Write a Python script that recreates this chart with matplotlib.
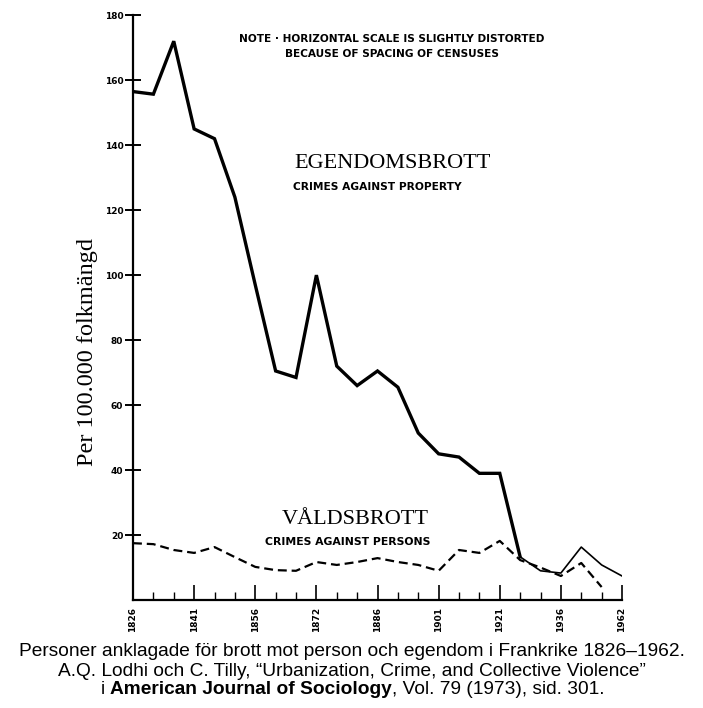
import matplotlib.pyplot as plt

# census years (horizontal scale follows census spacing, not time)
years = [1826, 1831, 1836, 1841, 1846, 1851, 1856, 1861, 1866, 1872, 1876, 1881,
         1886, 1891, 1896, 1901, 1906, 1911, 1921, 1926, 1931, 1936, 1946, 1954, 1962]
property_crimes = [156.5, 155.7, 172, 145, 142, 124, 97, 70.5, 68.5, 100, 72, 66,
                   70.5, 65.5, 51.4, 45, 44, 39, 39, 13.3, 9, 8.3, 16.3, 10.8, 7.4]
person_crimes = [17.5, 17.2, 15.4, 14.5, 16.3, 13.2, 10.2, 9.2, 9, 11.7, 10.8, 11.7,
                 12.9, 11.7, 10.8, 9, 15.4, 14.5, 18.2, 12.3, 10, 7.4, 11.4, 4]
label_years = [1826, 1841, 1856, 1872, 1886, 1901, 1921, 1936, 1962]
y_ticks = [20, 40, 60, 80, 100, 120, 140, 160, 180]

x = list(range(len(years)))

fig = plt.figure(figsize=(7.03, 7.08), dpi=100)
ax = fig.add_axes([0.1892, 0.1525, 0.6956, 0.826])

# solid line is heavy up to 1926, thinner afterwards
cut = years.index(1926)
ax.plot(x[:cut + 1], property_crimes[:cut + 1], color='black', lw=2.4,
        solid_joinstyle='miter')
ax.plot(x[cut:], property_crimes[cut:], color='black', lw=1.2)
ax.plot(x[:len(person_crimes)], person_crimes, color='black', lw=1.6,
        dashes=(4, 2.2))

ax.set_xlim(0, len(years) - 1)
ax.set_ylim(0, 180)
for s in ['top', 'right']:
    ax.spines[s].set_visible(False)
for s in ['left', 'bottom']:
    ax.spines[s].set_linewidth(1.6)

ax.set_yticks(y_ticks)
ax.set_yticklabels([str(v) for v in y_ticks], fontsize=6.5, fontweight='bold')
ax.tick_params(axis='y', direction='inout', length=12, width=1.4, pad=1)

major = [years.index(y) for y in label_years]
minor = [i for i in x if i not in major]
ax.set_xticks(major)
ax.set_xticklabels([str(y) for y in label_years], rotation=90, fontsize=6.5,
                   fontweight='bold')
ax.set_xticks(minor, minor=True)
ax.tick_params(axis='x', which='major', direction='in', length=11, width=1.2, pad=5)
ax.tick_params(axis='x', which='minor', direction='in', length=6, width=1.0)

ax.set_ylabel('Per 100.000 folkmängd', family='Liberation Serif', fontsize=17.5)
ax.yaxis.set_label_coords(-0.072, 0.424)

ax.text(0.53, 0.946, 'NOTE · HORIZONTAL SCALE IS SLIGHTLY DISTORTED\n'
        'BECAUSE OF SPACING OF CENSUSES', transform=ax.transAxes, ha='center',
        va='center', fontsize=7.6, fontweight='bold', linespacing=1.6)
ax.text(0.53, 0.747, 'EGENDOMSBROTT', transform=ax.transAxes, ha='center',
        va='center', family='Liberation Serif', fontsize=16)
ax.text(0.499, 0.706, 'CRIMES AGAINST PROPERTY', transform=ax.transAxes,
        ha='center', va='center', fontsize=7.7, fontweight='bold')
ax.text(0.455, 0.137, 'VÅLDSBROTT', transform=ax.transAxes, ha='center',
        va='center', family='Liberation Serif', fontsize=16)
ax.text(0.438, 0.099, 'CRIMES AGAINST PERSONS', transform=ax.transAxes,
        ha='center', va='center', fontsize=7.8, fontweight='bold')

fs = 13.8
cap = dict(family='Liberation Sans', fontsize=fs, ha='center', va='center')
fig.text(0.5, 1 - 652 / 708, 'Personer anklagade för brott mot person och egendom '
         'i Frankrike 1826–1962.', **cap)
fig.text(0.5, 1 - 671 / 708, 'A.Q. Lodhi och C. Tilly, “Urbanization, Crime, and '
         'Collective Violence”', **cap)

# third line mixes regular and bold text: place pieces, then centre them
parts = [('i ', 'normal'), ('American Journal of Sociology', 'bold'),
         (', Vol. 79 (1973), sid. 301.', 'normal')]
pieces = []
for txt, wt in parts:
    pieces.append(fig.text(0, 1 - 690 / 708, txt, family='Liberation Sans',
                           fontsize=fs, fontweight=wt, ha='left', va='center'))
fig.canvas.draw()
r = fig.canvas.get_renderer()
widths = [p.get_window_extent(r).width for p in pieces]
W = fig.get_figwidth() * fig.dpi
xpos = (W - sum(widths)) / 2 + 1
for p, w in zip(pieces, widths):
    p.set_x(xpos / W)
    xpos += w

fig.savefig('out.png', dpi=100)
